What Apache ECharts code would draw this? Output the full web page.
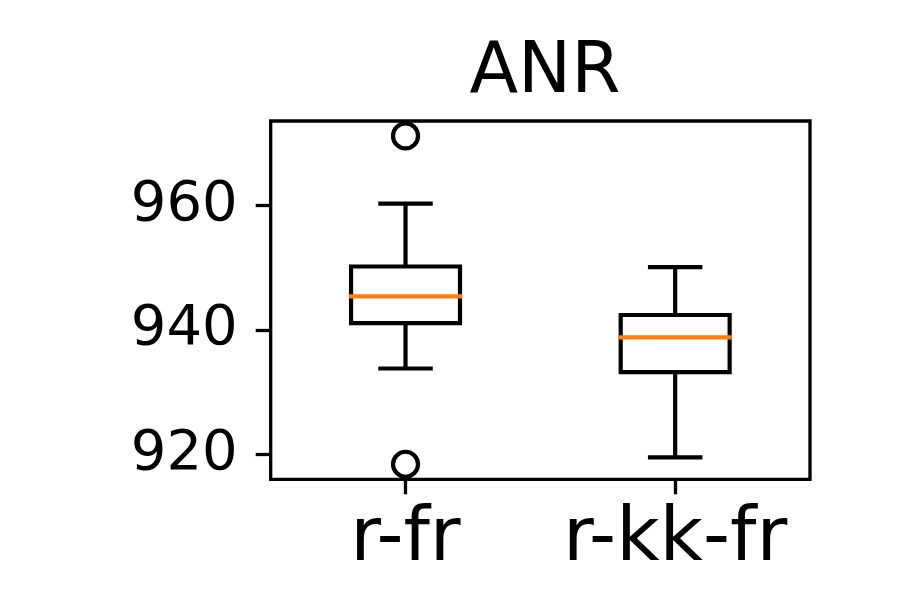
<!DOCTYPE html>
<html>
<head>
<meta charset="utf-8">
<script src="https://cdn.jsdelivr.net/npm/echarts@6/dist/echarts.min.js"></script>
<style>html,body{margin:0;padding:0;background:#fff;}#chart{width:900px;height:600px;}</style>
</head>
<body>
<div id="chart"></div>
<script>
// ---- data ----
const title = 'ANR';
const categories = ['r-fr', 'r-kk-fr'];
const boxMin = [933.8, 919.5];
const boxQ1 = [941.1, 933.2];
const boxMedian = [945.4, 938.8];
const boxQ3 = [950.2, 942.4];
const boxMax = [960.3, 950.1];
const outlierCat = [0, 0];
const outlierVal = [971.2, 918.4];
const yTicks = [920, 940, 960];
const yMin = 915.98, yMax = 973.6;

// ---- layout ----
const FONT = 'DejaVu Sans';
const G = { left: 270.7, right: 90, top: 121, bottom: 120.7 };
const H = 600 - G.top - G.bottom;
const s = H / (yMax - yMin);
const tickTop = G.top + (yMax - yTicks[yTicks.length - 1]) * s;
const tickBottom = G.bottom + (yTicks[0] - yMin) * s;

const boxData = categories.map((c, i) => [i, boxMin[i], boxQ1[i], boxMedian[i], boxQ3[i], boxMax[i]]);
const outData = outlierCat.map((c, i) => [c, outlierVal[i]]);

const LW = 4.2;
function renderBox(params, api) {
  const i = api.value(0);
  const band = api.size([1, 0])[0];
  const bw = band * 0.404;
  const cw = bw / 2;
  const pMin = api.coord([i, api.value(1)]);
  const pQ1 = api.coord([i, api.value(2)]);
  const pMed = api.coord([i, api.value(3)]);
  const pQ3 = api.coord([i, api.value(4)]);
  const pMax = api.coord([i, api.value(5)]);
  const cx = pMed[0];
  const st = { stroke: '#000', lineWidth: LW, fill: null };
  return {
    type: 'group',
    children: [
      { type: 'line', shape: { x1: cx, y1: pMin[1], x2: cx, y2: pQ1[1] }, style: st },
      { type: 'line', shape: { x1: cx, y1: pQ3[1], x2: cx, y2: pMax[1] }, style: st },
      { type: 'line', shape: { x1: cx - cw / 2, y1: pMin[1], x2: cx + cw / 2, y2: pMin[1] }, style: st },
      { type: 'line', shape: { x1: cx - cw / 2, y1: pMax[1], x2: cx + cw / 2, y2: pMax[1] }, style: st },
      { type: 'rect', shape: { x: cx - bw / 2, y: pQ3[1], width: bw, height: pQ1[1] - pQ3[1] }, style: st },
      { type: 'line', shape: { x1: cx - bw / 2 - LW / 2, y1: pMed[1], x2: cx + bw / 2 + LW / 2, y2: pMed[1] },
        style: { stroke: '#ff7f0e', lineWidth: LW } }
    ]
  };
}

const chart = echarts.init(document.getElementById('chart'), null, { renderer: 'canvas' });
chart.setOption({
  backgroundColor: '#fff',
  animation: false,
  textStyle: { fontFamily: FONT },
  title: {
    text: title, left: 540, top: 33, textAlign: 'center',
    textStyle: { fontFamily: FONT, fontSize: 71, fontWeight: 'normal', color: '#000' }
  },
  grid: [
    { left: G.left, right: G.right, top: G.top, bottom: G.bottom, show: true, borderColor: '#000', borderWidth: 3.3, backgroundColor: 'transparent' },
    { left: G.left, right: G.right, top: tickTop, bottom: tickBottom, show: false }
  ],
  xAxis: [
    {
      gridIndex: 0, type: 'category', data: categories,
      axisLine: { show: false },
      axisTick: { show: true, alignWithLabel: true, interval: 0, length: 15, lineStyle: { color: '#000', width: 3.3 } },
      axisLabel: { fontFamily: FONT, fontSize: 75, color: '#000', margin: 24, interval: 0, hideOverlap: false },
      splitLine: { show: false }
    },
    { gridIndex: 1, type: 'value', show: false }
  ],
  yAxis: [
    {
      gridIndex: 0, type: 'value', min: yMin, max: yMax,
      axisLine: { show: false }, axisTick: { show: false }, axisLabel: { show: false }, splitLine: { show: false }
    },
    {
      gridIndex: 1, type: 'value', min: yTicks[0], max: yTicks[yTicks.length - 1], interval: yTicks[1] - yTicks[0],
      axisLine: { show: false },
      axisTick: { show: true, length: 15, lineStyle: { color: '#000', width: 3.3 } },
      axisLabel: { fontFamily: FONT, fontSize: 56, color: '#000', margin: 33 },
      splitLine: { show: false }
    }
  ],
  series: [
    {
      type: 'custom', xAxisIndex: 0, yAxisIndex: 0,
      renderItem: renderBox, data: boxData,
      encode: { x: 0, y: [1, 2, 3, 4, 5] }, clip: false
    },
    {
      type: 'scatter', xAxisIndex: 0, yAxisIndex: 0, data: outData,
      symbol: 'circle', symbolSize: 25, clip: false,
      itemStyle: { color: 'rgba(0,0,0,0)', borderColor: '#000', borderWidth: 4.2, opacity: 1 }
    }
  ]
});
</script>
</body>
</html>
